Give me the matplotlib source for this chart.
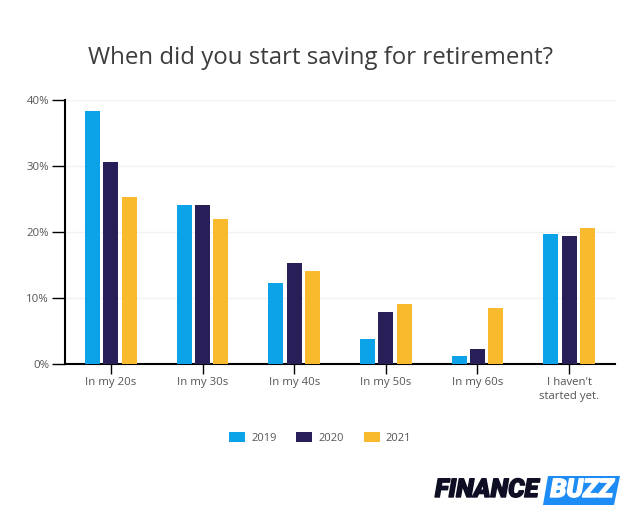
"""When did you start saving for retirement? (FinanceBuzz survey bars)."""

import matplotlib.patheffects as pe
import matplotlib.pyplot as plt
import numpy as np
from matplotlib.patches import Polygon

plt.rcParams["font.family"] = ["Open Sans", "DejaVu Sans"]

CATEGORIES = ["In my 20s", "In my 30s", "In my 40s", "In my 50s", "In my 60s",
              "I haven't\nstarted yet."]
YEARS = ["2019", "2020", "2021"]
VALUES_2019 = [38.3, 24.0, 12.3, 3.8, 1.2, 19.6]
VALUES_2020 = [30.6, 24.0, 15.3, 7.8, 2.2, 19.4]
VALUES_2021 = [25.3, 22.0, 14.0, 9.0, 8.5, 20.6]
Y_TICKS = [0, 10, 20, 30, 40]

COLORS = ["#0ba2e8", "#281f59", "#f9bb2d"]
TEXT_COLOR = "#555555"
W, H = 640, 530


def main() -> None:
    fig = plt.figure(figsize=(W / 100, H / 100), dpi=100)
    ax = fig.add_axes([65 / W, 1 - 364 / H, 550 / W, 264.5 / H])

    x = np.arange(len(CATEGORIES))
    series = [VALUES_2019, VALUES_2020, VALUES_2021]
    for i, (vals, year) in enumerate(zip(series, YEARS)):
        ax.bar(x + (i - 1) * 0.2, vals, width=0.165, color=COLORS[i],
               label=year, zorder=3)

    ax.set_xlim(-0.5, 5.5)
    ax.set_ylim(0, 40)
    ax.set_xticks(x, CATEGORIES, linespacing=1.35)
    ax.set_yticks(Y_TICKS, [f"{v}%" for v in Y_TICKS])
    ax.grid(axis="y", color="#f2f2f2", lw=1, zorder=0)
    ax.set_axisbelow(True)

    for side in ("top", "right"):
        ax.spines[side].set_visible(False)
    for side in ("left", "bottom"):
        ax.spines[side].set_linewidth(1.5)
        ax.spines[side].set_color("black")
    ax.tick_params(axis="x", length=7, width=1, color="black",
                   labelsize=8.2, labelcolor=TEXT_COLOR, pad=2.5)
    ax.tick_params(axis="y", length=9.5, width=1, color="black",
                   labelsize=8.2, labelcolor=TEXT_COLOR, pad=2)

    fig.text(320 / W, 1 - 58 / H, "When did you start saving for retirement?",
             ha="center", va="center", fontsize=17.3, color="#3c3c3c")

    fig.legend(loc="center", bbox_to_anchor=(320 / W, 1 - 438 / H), ncol=3,
               frameon=False, fontsize=8, labelcolor=TEXT_COLOR,
               handlelength=1.45, handleheight=1.05, handletextpad=0.5,
               columnspacing=1.8)

    # logo, drawn as text on a slanted blue box
    box = np.array([[548, 476], [620, 476], [614, 505], [543, 505]])
    fig.add_artist(Polygon(box / [W, H] * [1, -1] + [0, 1], closed=True,
                           transform=fig.transFigure, color="#1e8cf5", lw=0))
    logo = dict(va="center", fontsize=18.5, fontweight="black", style="italic",
                family="Roboto")
    fig.text(435 / W, 1 - 490 / H, "FINANCE", ha="left", color="#0e0e24",
             path_effects=[pe.withStroke(linewidth=1, foreground="#0e0e24")], **logo)
    fig.text(582 / W, 1 - 490 / H, "BUZZ", ha="center", color="white",
             path_effects=[pe.withStroke(linewidth=1, foreground="white")], **logo)

    fig.savefig("out.png", dpi=100)
    plt.close(fig)


if __name__ == "__main__":
    main()
